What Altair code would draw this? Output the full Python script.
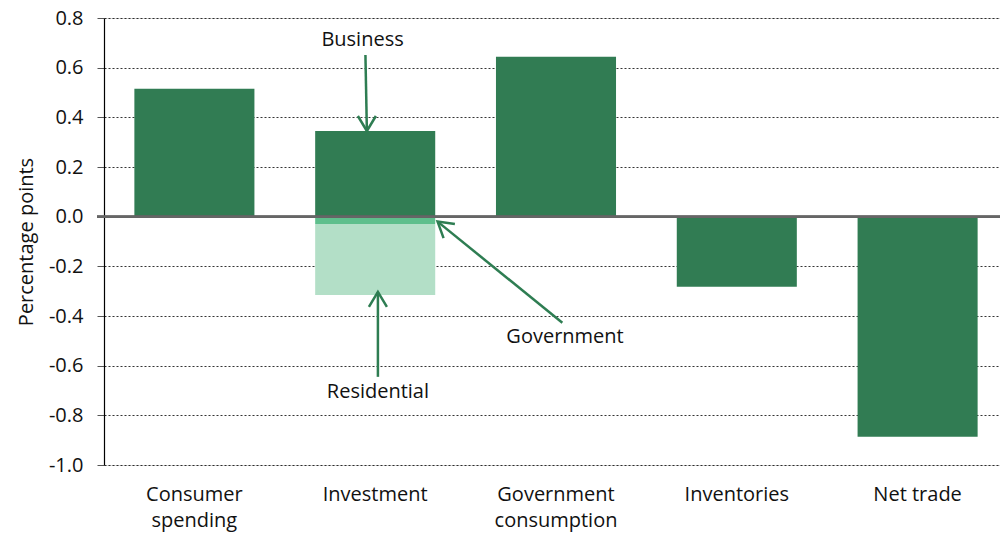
import altair as alt
import pandas as pd

# ---- data ----
categories = ["Consumer spending", "Investment", "Investment", "Investment",
              "Government consumption", "Inventories", "Net trade"]
components = ["Total", "Business", "Government", "Residential", "Total", "Total", "Total"]
values = [0.515, 0.345, -0.03, -0.285, 0.644, -0.282, -0.886]
stack_order = [0, 0, 1, 2, 0, 0, 0]

category_order = ["Consumer spending", "Investment", "Government consumption",
                  "Inventories", "Net trade"]
component_names = ["Total", "Business", "Government", "Residential"]
component_colors = ["#317C53", "#317C53", "#5EBF8C", "#B3DFC7"]

y_ticks = [-1.0, -0.8, -0.6, -0.4, -0.2, 0.0, 0.2, 0.4, 0.6, 0.8]

# annotations (x in category units 0..5, y in data units)
ann_labels = ["Business", "Government", "Residential"]
ann_text_x = [1.43, 2.55, 1.515]
ann_text_y = [0.712, -0.484, -0.706]
arrow_x = [1.446, 2.535, 1.515]
arrow_y = [0.651, -0.427, -0.645]
head_x = [1.454, 1.845, 1.515]
head_y = [0.345, -0.02, -0.303]
head_angle = [180, 309, 0]

FONT = "Open Sans"
GREEN = "#2E7D52"
FS = 20
PLOT_W = 896
BAND_W = 904

bars_df = pd.DataFrame({"category": categories, "component": components,
                        "value": values, "order": stack_order})
ann_df = pd.DataFrame({"label": ann_labels, "tx": ann_text_x, "ty": ann_text_y,
                       "ax": arrow_x, "ay": arrow_y, "hx": head_x, "hy": head_y,
                       "angle": head_angle})

yscale = alt.Scale(domain=[-1.0, 0.8], nice=False, zero=False)

bars = alt.Chart(bars_df).mark_bar().encode(
    x=alt.X("category:N", sort=category_order,
            scale=alt.Scale(paddingInner=0.336, paddingOuter=0.168, range=[0, BAND_W]),
            axis=alt.Axis(title=None, labelAngle=0, domain=False, ticks=False,
                          labelPadding=19, labelFontSize=FS, labelFont=FONT,
                          labelColor="#111", labelLineHeight=26,
                          labelExpr="datum.label == 'Consumer spending' ? ['Consumer','spending'] : datum.label == 'Government consumption' ? ['Government','consumption'] : datum.label")),
    y=alt.Y("value:Q", stack="zero", scale=yscale,
            axis=alt.Axis(title="Percentage points", values=y_ticks,
                          labelExpr="replace(format(datum.value, '.1f'), '\u2212', '-')",
                          labelFontSize=FS, labelFont=FONT, labelColor="#111",
                          labelPadding=14, titleFontSize=FS, titleFont=FONT,
                          titleFontWeight="normal", titleColor="#111", titlePadding=12,
                          domainColor="#000", domainWidth=1.2, tickColor="#555",
                          tickSize=7, grid=True, gridColor="#000", gridDash=[2, 2],
                          gridWidth=0.8)),
    color=alt.Color("component:N", scale=alt.Scale(domain=component_names,
                                                   range=component_colors), legend=None),
    order=alt.Order("order:Q"),
)

zero = alt.Chart(bars_df).mark_rule(color="#666", strokeWidth=2).encode(
    y=alt.datum(0), x=alt.value(-7), x2=alt.value(PLOT_W))

base_layer = alt.layer(bars, zero)

xa = alt.Scale(domain=[0, 5], nice=False, zero=False, range=[0, BAND_W])
ya = alt.Scale(domain=[-1.0, 0.8], nice=False, zero=False)

ann = alt.Chart(ann_df)
lines = ann.mark_rule(color=GREEN, strokeWidth=2.5).encode(
    x=alt.X("ax:Q", scale=xa, axis=None), y=alt.Y("ay:Q", scale=ya, axis=None),
    x2="hx:Q", y2="hy:Q")
heads = ann.mark_point(shape="M-0.6,1L0,0L0.6,1", filled=False, color=GREEN,
                       strokeWidth=2.5, size=900, opacity=1).encode(
    x=alt.X("hx:Q", scale=xa, axis=None), y=alt.Y("hy:Q", scale=ya, axis=None),
    angle=alt.Angle("angle:Q", scale=None))
texts = ann.mark_text(font=FONT, fontSize=FS, color="#111", baseline="middle",
                      align="center").encode(
    x=alt.X("tx:Q", scale=xa, axis=None), y=alt.Y("ty:Q", scale=ya, axis=None),
    text="label:N")
ann_layer = alt.layer(lines, heads, texts)

chart = alt.layer(base_layer, ann_layer).resolve_scale(
    x="independent", y="independent").properties(
    width=PLOT_W, height=447,
    autosize=alt.AutoSizeParams(type="none"),
    padding={"left": 96, "top": 10, "right": 0, "bottom": 68},
).configure_view(stroke=None).configure(background="white")

chart.save("out.html", embed_options={"renderer": "svg", "actions": False})
